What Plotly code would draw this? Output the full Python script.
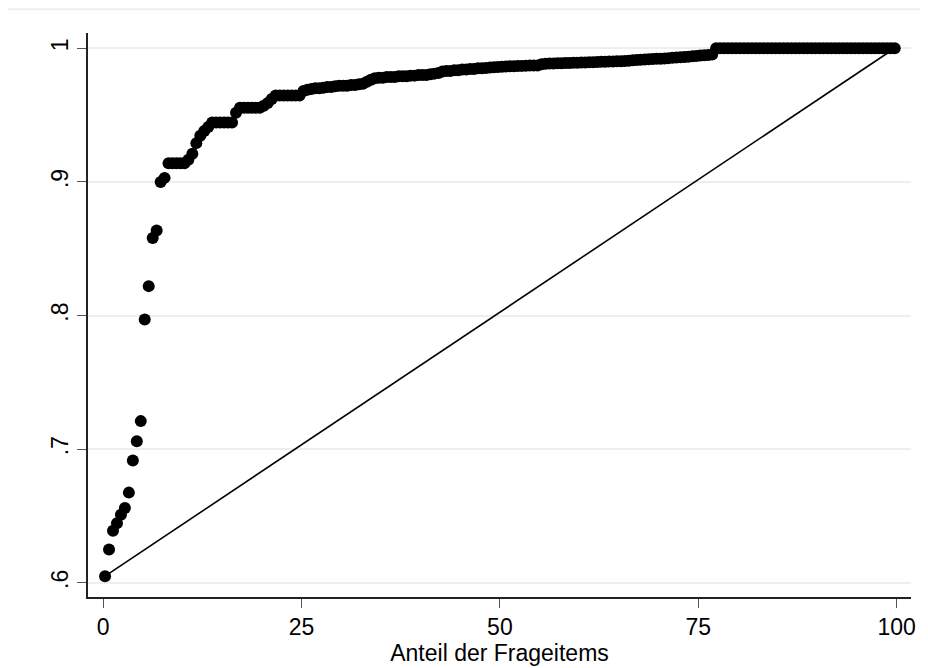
import plotly.graph_objects as go

# Share of items (percent) for each ranked item
anteil = [
    0.25, 0.75, 1.25, 1.75, 2.25, 2.75, 3.25, 3.75, 4.25, 4.75,
    5.25, 5.75, 6.25, 6.75, 7.25, 7.75, 8.25, 8.75, 9.25, 9.75,
    10.25, 10.75, 11.25, 11.75, 12.25, 12.75, 13.25, 13.75, 14.25, 14.75,
    15.25, 15.75, 16.25, 16.75, 17.25, 17.75, 18.25, 18.75, 19.25, 19.75,
    20.25, 20.75, 21.25, 21.75, 22.25, 22.75, 23.25, 23.75, 24.25, 24.75,
    25.25, 25.75, 26.25, 26.75, 27.25, 27.75, 28.25, 28.75, 29.25, 29.75,
    30.25, 30.75, 31.25, 31.75, 32.25, 32.75, 33.25, 33.75, 34.25, 34.75,
    35.25, 35.75, 36.25, 36.75, 37.25, 37.75, 38.25, 38.75, 39.25, 39.75,
    40.25, 40.75, 41.25, 41.75, 42.25, 42.75, 43.25, 43.75, 44.25, 44.75,
    45.25, 45.75, 46.25, 46.75, 47.25, 47.75, 48.25, 48.75, 49.25, 49.75,
    50.25, 50.75, 51.25, 51.75, 52.25, 52.75, 53.25, 53.75, 54.25, 54.75,
    55.25, 55.75, 56.25, 56.75, 57.25, 57.75, 58.25, 58.75, 59.25, 59.75,
    60.25, 60.75, 61.25, 61.75, 62.25, 62.75, 63.25, 63.75, 64.25, 64.75,
    65.25, 65.75, 66.25, 66.75, 67.25, 67.75, 68.25, 68.75, 69.25, 69.75,
    70.25, 70.75, 71.25, 71.75, 72.25, 72.75, 73.25, 73.75, 74.25, 74.75,
    75.25, 75.75, 76.25, 76.75, 77.25, 77.75, 78.25, 78.75, 79.25, 79.75,
    80.25, 80.75, 81.25, 81.75, 82.25, 82.75, 83.25, 83.75, 84.25, 84.75,
    85.25, 85.75, 86.25, 86.75, 87.25, 87.75, 88.25, 88.75, 89.25, 89.75,
    90.25, 90.75, 91.25, 91.75, 92.25, 92.75, 93.25, 93.75, 94.25, 94.75,
    95.25, 95.75, 96.25, 96.75, 97.25, 97.75, 98.25, 98.75, 99.25, 99.75,
]

# Cumulative value
kumuliert = [
    0.605, 0.625, 0.639, 0.6445, 0.651, 0.656, 0.6675, 0.6915, 0.706, 0.721,
    0.797, 0.822, 0.858, 0.8636, 0.900, 0.903, 0.914, 0.914, 0.914, 0.914,
    0.914, 0.9165, 0.921, 0.929, 0.9345, 0.938, 0.941, 0.9444, 0.9444, 0.9444,
    0.9444, 0.9444, 0.9444, 0.9518, 0.9555, 0.9555, 0.9555, 0.9555, 0.9555, 0.9555,
    0.957, 0.959, 0.962, 0.9646, 0.9646, 0.9646, 0.9646, 0.9646, 0.9646, 0.9646,
    0.968, 0.969, 0.9695, 0.970, 0.970, 0.9705, 0.971, 0.971, 0.9715, 0.972,
    0.972, 0.972, 0.9725, 0.9725, 0.973, 0.9735, 0.975, 0.9765, 0.9775, 0.978,
    0.978, 0.9785, 0.9785, 0.9785, 0.979, 0.979, 0.979, 0.9795, 0.9795, 0.980,
    0.980, 0.980, 0.9805, 0.981, 0.9815, 0.9825, 0.983, 0.983, 0.9835, 0.9835,
    0.984, 0.984, 0.9845, 0.9845, 0.985, 0.985, 0.9852, 0.9855, 0.9858, 0.986,
    0.9862, 0.9864, 0.9865, 0.9866, 0.9867, 0.9868, 0.9869, 0.987, 0.987, 0.9871,
    0.988, 0.9883, 0.9885, 0.9886, 0.9887, 0.9888, 0.9889, 0.989, 0.9891, 0.9892,
    0.9893, 0.9894, 0.9895, 0.9896, 0.9897, 0.9898, 0.9899, 0.990, 0.9901, 0.9902,
    0.9903, 0.9904, 0.9906, 0.991, 0.9912, 0.9914, 0.9916, 0.9918, 0.992, 0.9921,
    0.9922, 0.9924, 0.9926, 0.9928, 0.993, 0.9932, 0.9935, 0.9937, 0.994, 0.9942,
    0.9945, 0.9947, 0.995, 0.9953, 1.0, 1.0, 1.0, 1.0, 1.0, 1.0,
    1.0, 1.0, 1.0, 1.0, 1.0, 1.0, 1.0, 1.0, 1.0, 1.0,
    1.0, 1.0, 1.0, 1.0, 1.0, 1.0, 1.0, 1.0, 1.0, 1.0,
    1.0, 1.0, 1.0, 1.0, 1.0, 1.0, 1.0, 1.0, 1.0, 1.0,
    1.0, 1.0, 1.0, 1.0, 1.0, 1.0, 1.0, 1.0, 1.0, 1.0,
]

# Reference (diagonal) line
ref_x = [0.25, 99.75]
ref_y = [0.605, 1.0]

x_ticks = [0, 25, 50, 75, 100]
x_ticklabels = ["0", "25", "50", "75", "100"]
y_ticks = [0.6, 0.7, 0.8, 0.9, 1.0]
y_ticklabels = [".6", ".7", ".8", ".9", "1"]

FONT = "Liberation Sans, Arial, sans-serif"

fig = go.Figure()
fig.add_trace(go.Scatter(
    x=ref_x, y=ref_y, mode="lines",
    line=dict(color="black", width=1.6),
    showlegend=False, hoverinfo="skip",
))
fig.add_trace(go.Scatter(
    x=anteil, y=kumuliert, mode="markers",
    marker=dict(color="black", size=12, line=dict(width=0)),
    showlegend=False,
))

fig.update_layout(
    width=920, height=660,
    margin=dict(l=80, r=16, t=25, b=66),
    paper_bgcolor="white", plot_bgcolor="white",
    font=dict(family=FONT, size=23, color="black"),
    shapes=[dict(type="line", xref="paper", yref="paper",
                 x0=-0.0971, x1=1.02, y0=1.0422, y1=1.0422,
                 line=dict(color="#E8F0F2", width=2))],
)
fig.update_xaxes(
    range=[-1.9, 101.8],
    tickmode="array", tickvals=x_ticks, ticktext=x_ticklabels,
    showgrid=False, zeroline=False,
    showline=True, linecolor="#222222", linewidth=1.5,
    ticks="outside", ticklen=9, tickwidth=1.2, tickcolor="#555555",
    tickfont=dict(family=FONT, size=23, color="black"),
    title=dict(text="Anteil der Frageitems", standoff=0,
               font=dict(family=FONT, size=23, color="black")),
)
fig.update_yaxes(
    range=[0.5894, 1.0114],
    tickmode="array", tickvals=y_ticks, ticktext=y_ticklabels,
    tickangle=-90,
    showgrid=True, gridcolor="#E8F0F2", gridwidth=2,
    zeroline=False,
    showline=True, linecolor="#222222", linewidth=1.5,
    ticks="outside", ticklen=9, tickwidth=1.2, tickcolor="#555555",
    tickfont=dict(family=FONT, size=23, color="black"),
)

fig.write_html("out.html")
